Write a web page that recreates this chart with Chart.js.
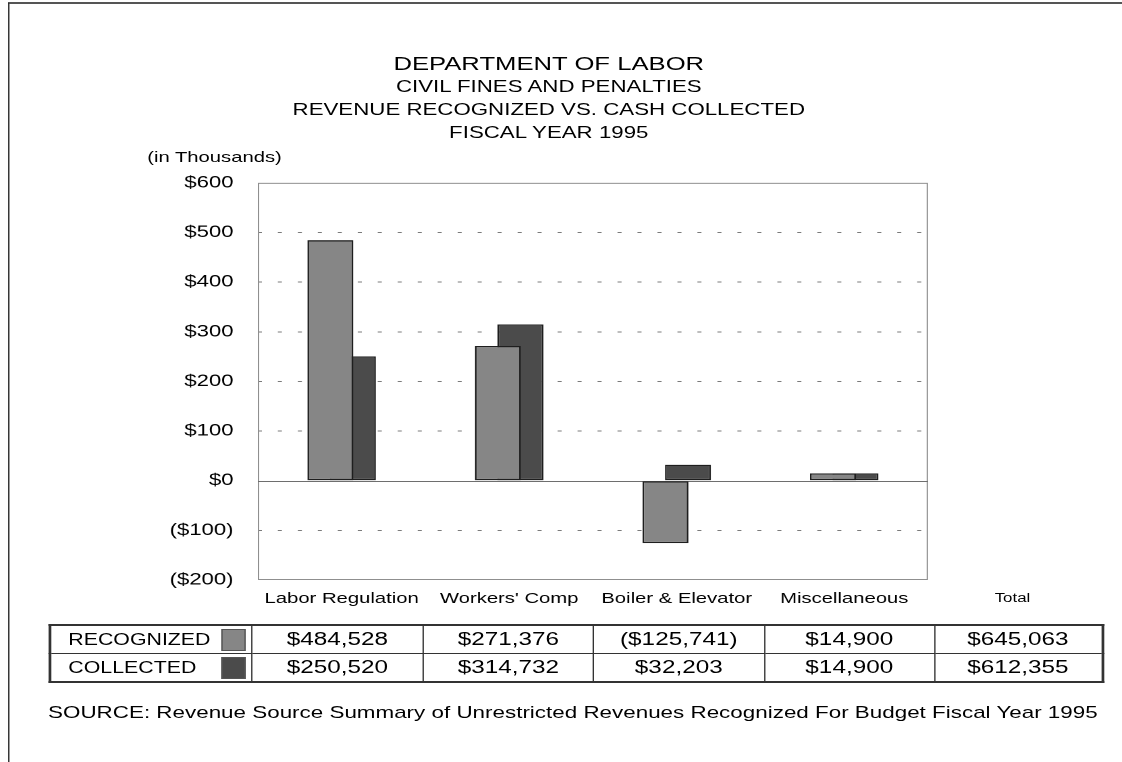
<!DOCTYPE html>
<html>
<head>
<meta charset="utf-8">
<script src="https://cdn.jsdelivr.net/npm/chart.js@4.4.1/dist/chart.umd.min.js"></script>
<style>
  html, body { margin: 0; padding: 0; background: #fff; }
  body { width: 1122px; height: 762px; overflow: hidden; position: relative; }
  /* the scanned original is stretched sideways, so the whole page is laid out
     at 831px and widened by 1.35 */
  #page {
    position: absolute; left: 0; top: 0; width: 831px; height: 762px;
    transform: scaleX(1.35); transform-origin: 0 0;
    font-family: "Liberation Sans", Arial, sans-serif; color: #000;
  }
  #frame {
    position: absolute; left: 5.5px; top: 2px; width: 830px; height: 770px;
    border-top: 2px solid #555; border-left: 1.5px solid #222;
  }
  #titles {
    position: absolute; left: 0; top: 52px; width: 813px;
    text-align: center; line-height: 23px;
  }
  #titles .main { font-size: 19px; }
  #titles .sub { font-size: 16.5px; }
  #units { position: absolute; left: 109px; top: 147px; font-size: 15px; line-height: 20px; }
  #chart { position: absolute; left: 0; top: 155px; width: 831px; height: 465px; }
  #totalLabel {
    position: absolute; left: 720px; width: 60px; top: 590px;
    text-align: center; font-size: 12.5px; line-height: 16px;
  }
  #values {
    position: absolute; left: 35.6px; top: 624px;
    border-collapse: collapse; table-layout: fixed;
    border: 2px solid #333;
  }
  #values td {
    border: 1px solid #333; height: 27px; padding: 0;
    text-align: center; font-size: 18px; white-space: nowrap;
  }
  #values td.lbl { text-align: left; padding-left: 13px; font-size: 15.8px; position: relative; }
  .swatch {
    position: absolute; left: 126px; top: 3px; width: 16px; height: 20px;
    border: 1px solid #555;
  }
  #source {
    position: absolute; left: 35.6px; top: 703px; font-size: 16.6px;
    line-height: 20px; white-space: nowrap;
  }
</style>
</head>
<body>
<div id="page">
  <div id="frame"></div>
  <div id="titles">
    <div class="main">DEPARTMENT OF LABOR</div>
    <div class="sub">CIVIL FINES AND PENALTIES</div>
    <div class="sub">REVENUE RECOGNIZED VS. CASH COLLECTED</div>
    <div class="sub">FISCAL YEAR 1995</div>
  </div>
  <div id="units">(in Thousands)</div>
  <canvas id="chart" width="831" height="465"></canvas>
  <div id="totalLabel">Total</div>
  <table id="values">
    <colgroup>
      <col style="width:149.6px"><col style="width:127.4px"><col style="width:125.9px">
      <col style="width:126.7px"><col style="width:125.9px"><col style="width:124.5px">
    </colgroup>
    <tbody id="rows"></tbody>
  </table>
  <div id="source">SOURCE: Revenue Source Summary of Unrestricted Revenues Recognized For Budget Fiscal Year 1995</div>
</div>

<script>
// ============================================================
// Data (dollars)
// ============================================================

const categories = ["Labor Regulation", "Workers' Comp", "Boiler & Elevator", "Miscellaneous"];
const recognized = [484528, 271376, -125741, 14900];
const collected = [250520, 314732, 32203, 14900];
const seriesNames = ["RECOGNIZED", "COLLECTED"];
const seriesColors = ["#868686", "#4b4b4b"];
const yTicks = [-200, -100, 0, 100, 200, 300, 400, 500, 600];

// ============================================================
// Helpers
// ============================================================

function money(v) {
    const s = "$" + Math.abs(v).toLocaleString("en-US");
    return v < 0 ? "(" + s + ")" : s;
}

const sum = arr => arr.reduce((a, b) => a + b, 0);

// ============================================================
// Table under the chart
// ============================================================

const rows = document.getElementById("rows");
[recognized, collected].forEach((vals, i) => {
    const tr = document.createElement("tr");
    let html = `<td class="lbl">${seriesNames[i]}<span class="swatch" style="background:${seriesColors[i]}"></span></td>`;
    vals.forEach(v => { html += `<td>${money(v)}</td>`; });
    html += `<td>${money(sum(vals))}</td>`;
    tr.innerHTML = html;
    rows.appendChild(tr);
});

// ============================================================
// Plot frame + zero line
// ============================================================

const framePlugin = {
    id: "frame",
    beforeDatasetsDraw(chart) {
        const { ctx, chartArea: a, scales: { y } } = chart;
        ctx.save();
        ctx.strokeStyle = "#8f8f8f";
        ctx.lineWidth = 1;
        ctx.strokeRect(a.left + 0.5, a.top + 0.5, a.width - 1, a.height - 1);
        const y0 = Math.round(y.getPixelForValue(0)) + 0.5;
        ctx.strokeStyle = "#6e6e6e";
        ctx.beginPath();
        ctx.moveTo(a.left, y0);
        ctx.lineTo(a.right, y0);
        ctx.stroke();
        ctx.restore();
    }
};

// ============================================================
// Chart
// ============================================================

const FONT = "'Liberation Sans', Arial, sans-serif";

new Chart(document.getElementById("chart"), {
    type: "bar",
    data: {
        labels: categories,
        datasets: [recognized, collected].map((vals, i) => ({
            label: seriesNames[i],
            data: vals.map(v => v / 1000),
            backgroundColor: seriesColors[i],
            borderColor: "#1e1e1e",
            borderWidth: 1.3,
            borderSkipped: false,
            categoryPercentage: 0.269,
            barPercentage: 2.04
        }))
    },
    options: {
        responsive: false,
        devicePixelRatio: 2,
        animation: false,
        layout: { padding: { left: 0, right: 143.6, top: 18, bottom: 0 } },
        plugins: {
            legend: { display: false },
            tooltip: { enabled: false },
            title: { display: false }
        },
        scales: {
            x: {
                grid: { display: false, drawTicks: false },
                border: { display: false },
                ticks: {
                    color: "#000",
                    font: { family: FONT, size: 15 },
                    padding: 10,
                    maxRotation: 0,
                    autoSkip: false
                },
                afterFit: s => { s.height = 40; }
            },
            y: {
                min: -200,
                max: 600,
                afterBuildTicks: s => { s.ticks = yTicks.map(v => ({ value: v })); },
                afterFit: s => { s.width = 191; },
                grid: {
                    drawTicks: false,
                    lineWidth: 1,
                    color: c => {
                        const v = c.tick && c.tick.value;
                        return (v === 0 || v === -200 || v === 600) ? "rgba(0,0,0,0)" : "#7a7a7a";
                    }
                },
                border: { display: false, dash: [3, 11.8] },
                ticks: {
                    color: "#000",
                    font: { family: FONT, size: 16.4 },
                    padding: 18,
                    callback: v => v < 0 ? "($" + Math.abs(v) + ")" : "$" + v
                }
            }
        }
    },
    plugins: [framePlugin]
});
</script>
</body>
</html>
